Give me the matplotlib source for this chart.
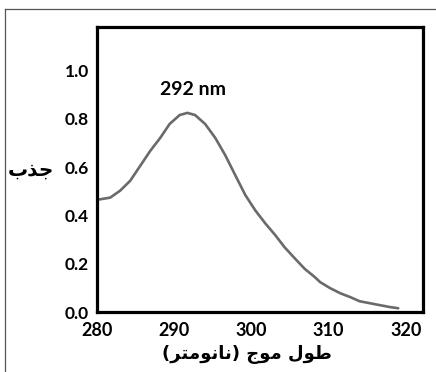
import matplotlib.pyplot as plt
from matplotlib.lines import Line2D

# data
wavelength = [280.0, 281.7, 283.0, 284.3, 285.6, 286.9, 288.2, 289.4, 290.7,
              291.7, 292.7, 294.0, 295.3, 296.6, 297.9, 299.2, 300.5, 301.8,
              303.1, 304.3, 305.6, 306.9, 308.2, 308.9, 310.2, 311.5, 312.8,
              314.0, 315.3, 316.6, 317.9, 319.0]
absorbance = [0.465, 0.474, 0.503, 0.544, 0.606, 0.668, 0.722, 0.779, 0.816,
              0.825, 0.816, 0.779, 0.722, 0.650, 0.567, 0.485, 0.421, 0.367,
              0.318, 0.268, 0.223, 0.179, 0.145, 0.124, 0.099, 0.078, 0.062,
              0.045, 0.037, 0.029, 0.021, 0.016]
x_ticks = [280, 290, 300, 310, 320]
y_ticks = [0.0, 0.2, 0.4, 0.6, 0.8, 1.0]
peak_label = "292 nm"

# Arabic labels written in visual order with presentation forms
y_label = "\uFE8F\uFEAC\uFE9F"  # جذب
x_label = ("(\uFEAE\uFE98\uFEE3\uFEEE\uFEE7\uFE8E\uFEE7) "
           "\uFE9D\uFEEE\uFEE3 \uFEDD\uFEEE\uFEC3")  # طول موج (نانومتر)

fig = plt.figure(figsize=(4.36, 3.72), dpi=100)
ax = fig.add_axes([0.2225, 0.161, 0.7475, 0.766])

ax.plot(wavelength, absorbance, color='#6a6a6a', linewidth=1.9,
        solid_capstyle='round', solid_joinstyle='round')

ax.set_xlim(280, 322.2)
ax.set_ylim(0, 1.18)
ax.set_xticks(x_ticks)
ax.set_yticks(y_ticks)
ax.set_xticklabels([str(t) for t in x_ticks], fontfamily='Lato',
                   fontweight='bold', fontsize=13)
ax.set_yticklabels([f"{t:.1f}" for t in y_ticks], fontfamily='Lato',
                   fontweight='bold', fontsize=12.5)
ax.tick_params(axis='x', length=0, pad=7)
ax.tick_params(axis='y', length=0, pad=6)
for s in ax.spines.values():
    s.set_linewidth(2.3)
    s.set_color('black')

ax.text(292.4, 0.92, peak_label, ha='center', va='center',
        fontfamily='Lato', fontweight='bold', fontsize=14)

fig.text(0.072, 0.543, y_label, ha='center', va='center',
         fontfamily='DejaVu Sans', fontweight='bold', fontsize=14.5)
fig.text(0.567, 0.048, x_label, ha='center', va='center',
         fontfamily='DejaVu Sans', fontweight='bold', fontsize=13)

# thin outer frame (top and left only)
fig.add_artist(Line2D([0.011, 1.0], [0.976, 0.976], color='#555555',
                      linewidth=0.9, transform=fig.transFigure))
fig.add_artist(Line2D([0.011, 0.011], [0.0, 0.976], color='#555555',
                      linewidth=0.9, transform=fig.transFigure))

plt.savefig("out.png", dpi=100)
